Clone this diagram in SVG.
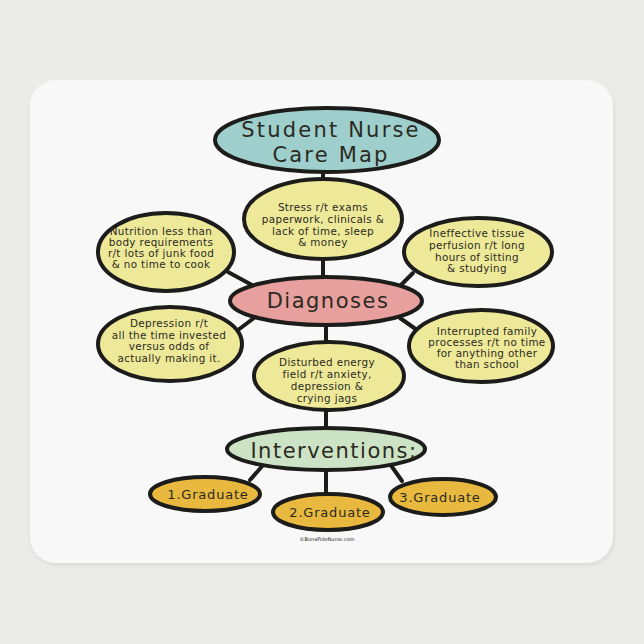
<svg xmlns="http://www.w3.org/2000/svg" width="644" height="644" viewBox="0 0 644 644">
<defs>
<style>
.bg{fill:#ebebea}
.pad{fill:#f8f8f8}
.n{stroke:#1c1c1a;stroke-width:4}
.y{fill:#eee999}
.t{font-family:"DejaVu Sans",sans-serif;fill:#2b2a22;text-anchor:middle}
.s{font-size:10.4px;letter-spacing:0.35px}
.big{font-size:21px;letter-spacing:1.5px}
.tt{letter-spacing:2.2px}
.g{font-size:13px;letter-spacing:0.8px}
.c{stroke:#1c1c1a;stroke-width:4;fill:none;stroke-linecap:round}
</style>
<filter id="sh" x="-5%" y="-5%" width="110%" height="115%"><feGaussianBlur stdDeviation="2"/></filter>
</defs>
<rect class="bg" x="0" y="0" width="644" height="644"/>
<rect x="31" y="83" width="583" height="482" rx="26" fill="#d8d8d6" filter="url(#sh)"/>
<rect class="pad" x="30" y="80" width="583" height="483" rx="26"/>
<g id="connectors">
<line class="c" x1="323" y1="170" x2="323" y2="180"/>
<line class="c" x1="323" y1="258" x2="323" y2="278"/>
<line class="c" x1="228" y1="272" x2="252" y2="285"/>
<line class="c" x1="413" y1="273" x2="401" y2="285"/>
<line class="c" x1="238" y1="330" x2="254" y2="318"/>
<line class="c" x1="417" y1="330" x2="400" y2="318"/>
<line class="c" x1="326" y1="324" x2="326" y2="342"/>
<line class="c" x1="326" y1="409" x2="326" y2="429"/>
<line class="c" x1="264" y1="464" x2="250" y2="480"/>
<line class="c" x1="326" y1="469" x2="326" y2="496"/>
<line class="c" x1="390" y1="464" x2="402" y2="481"/>
</g>
<g id="title">
<ellipse class="n" cx="327" cy="140" rx="112" ry="32" fill="#9ecfcc"/>
<text class="t big tt" x="331" y="137">Student Nurse</text>
<text class="t big tt" x="331" y="162">Care Map</text>
</g>
<g id="stress">
<ellipse class="n y" cx="323" cy="219" rx="79" ry="40"/>
<text class="t s" x="323" y="211">Stress r/t exams</text>
<text class="t s" x="323" y="223">paperwork, clinicals &amp;</text>
<text class="t s" x="323" y="234.5">lack of time, sleep</text>
<text class="t s" x="323" y="246">&amp; money</text>
</g>
<g id="nutrition">
<ellipse class="n y" cx="166" cy="252" rx="68" ry="39"/>
<text class="t s" x="161" y="235">Nutrition less than</text>
<text class="t s" x="161" y="246">body requirements</text>
<text class="t s" x="161" y="257">r/t lots of junk food</text>
<text class="t s" x="161" y="268">&amp; no time to cook</text>
</g>
<g id="ineffective">
<ellipse class="n y" cx="478" cy="252" rx="74" ry="34"/>
<text class="t s" x="477" y="237">Ineffective tissue</text>
<text class="t s" x="477" y="249">perfusion r/t long</text>
<text class="t s" x="477" y="261">hours of sitting</text>
<text class="t s" x="477" y="272">&amp; studying</text>
</g>
<g id="diagnoses">
<ellipse class="n" cx="326" cy="301" rx="96" ry="24" fill="#e8a09e"/>
<text class="t big" x="328" y="308">Diagnoses</text>
</g>
<g id="depression">
<ellipse class="n" cx="170" cy="344" rx="72" ry="37" fill="#eee999"/>
<text class="t s" x="169" y="327">Depression r/t</text>
<text class="t s" x="169" y="338.5">all the time invested</text>
<text class="t s" x="169" y="350">versus odds of</text>
<text class="t s" x="169" y="361.5">actually making it.</text>
</g>
<g id="interrupted">
<ellipse class="n y" cx="481" cy="346" rx="72" ry="36"/>
<text class="t s" x="487" y="335">Interrupted family</text>
<text class="t s" x="487" y="346">processes r/t no time</text>
<text class="t s" x="487" y="357">for anything other</text>
<text class="t s" x="487" y="368">than school</text>
</g>
<g id="disturbed">
<ellipse class="n y" cx="329" cy="376" rx="75" ry="34"/>
<text class="t s" x="327" y="366">Disturbed energy</text>
<text class="t s" x="327" y="378">field r/t anxiety,</text>
<text class="t s" x="327" y="390">depression &amp;</text>
<text class="t s" x="327" y="402">crying jags</text>
</g>
<g id="interventions">
<ellipse class="n" cx="326" cy="449" rx="99" ry="21" fill="#cde3c5"/>
<text class="t big" x="334" y="458">Interventions:</text>
</g>
<g id="graduate1">
<ellipse class="n" cx="205" cy="494" rx="55" ry="17" fill="#e8b93e"/>
<text class="t g" x="208" y="499">1.Graduate</text>
</g>
<g id="graduate2">
<ellipse class="n" cx="328" cy="512" rx="55" ry="18" fill="#e8b93e"/>
<text class="t g" x="330" y="517">2.Graduate</text>
</g>
<g id="graduate3">
<ellipse class="n" cx="443" cy="497" rx="53" ry="18" fill="#e8b93e"/>
<text class="t g" x="440" y="502">3.Graduate</text>
</g>
<text class="t" x="327" y="541" style="font-size:5px">©BonaFideNurse.com</text>
</svg>
